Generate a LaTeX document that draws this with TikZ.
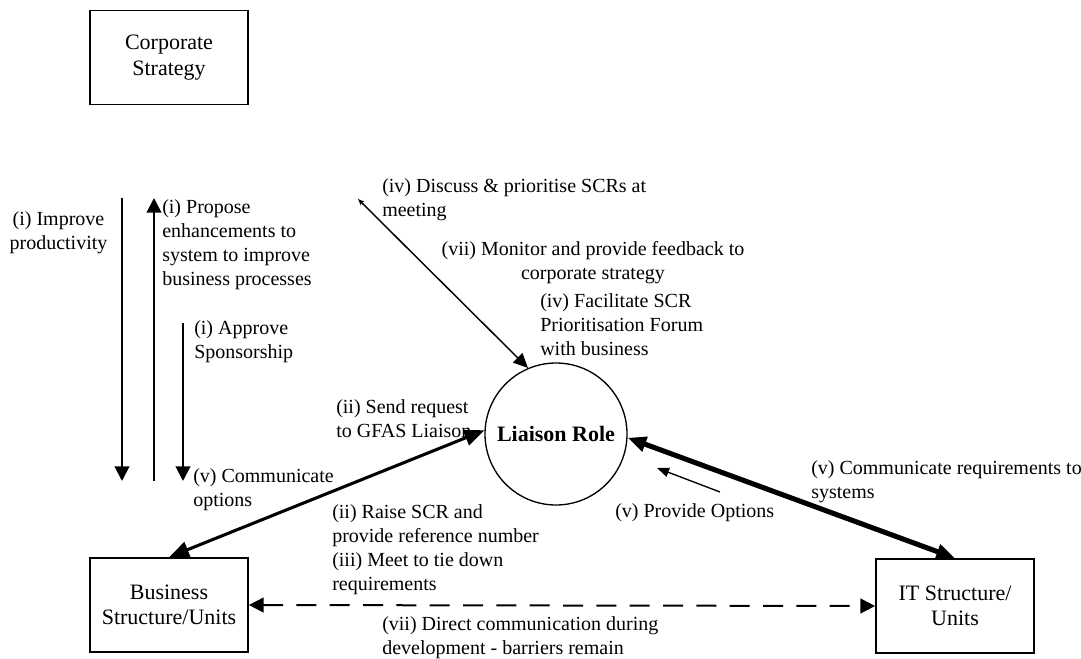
\documentclass[tikz,border=0pt]{standalone}
\usepackage{fontspec}
\setmainfont{Liberation Serif}
\usetikzlibrary{arrows.meta}

\tikzset{
  unitbox/.style={draw, line width=1.3pt, minimum width=118.5pt, minimum height=70.5pt,
    align=center, inner sep=0pt, font=\fontsize{16.5}{19}\selectfont},
  rolecircle/.style={draw, circle, line width=1pt, minimum size=106.5pt, inner sep=0pt,
    font=\fontsize{16.5}{19}\selectfont\bfseries},
  lbl/.style={anchor=north west, inner sep=0pt, align=left, font=\fontsize{15}{18}\selectfont},
  flow/.style={line width=1.5pt, -{Triangle[length=11pt,width=11pt]}},
}

\begin{document}
\begin{tikzpicture}[x=0.75pt,y=0.75pt,yscale=-1,xscale=1]
\useasboundingbox (0,0) rectangle (1081,659);

%Shape: Rectangle
\node[unitbox] (corp) at (169,57.5) {Corporate\\Strategy};
\node[unitbox] (bus) at (169,605) {Business\\Structure/Units};
\node[unitbox] (itu) at (955,606) {IT Structure/\\Units};

%Shape: Circle
\node[rolecircle] (liaison) at (556,434) {Liaison Role};

%Straight Lines
\coordinate (dnA) at (122,198);
\coordinate (dnB) at (122,481);
\draw[flow] (dnA) -- (dnB);

%Straight Lines
\coordinate (upA) at (154,481);
\coordinate (upB) at (154,198);
\draw[flow] (upA) -- (upB);

%Straight Lines
\coordinate (apA) at (183,323);
\coordinate (apB) at (183,481);
\draw[flow] (apA) -- (apB);

%Straight Lines
\coordinate (discA) at (358,199);
\draw[line width=1.1pt, {Stealth[length=5pt,width=4pt]}-{Triangle[length=11pt,width=10pt]}] (discA) -- (liaison.113);

%Straight Lines
\draw[line width=2.3pt, {Triangle[length=15pt,width=12pt]}-{Triangle[length=15pt,width=12pt]}] (bus.north) -- (liaison.177);

%Straight Lines
\draw[line width=3.8pt, {Triangle[length=14pt,width=11pt]}-{Triangle[length=14pt,width=11pt]}] (liaison.-3) -- (itu.north);

%Straight Lines
\coordinate (optA) at (720,492);
\coordinate (optB) at (657,468);
\draw[line width=1pt, -{Triangle[length=9pt,width=7pt]}] (optA) -- (optB);

%Straight Lines
\draw[line width=1.5pt, dash pattern=on 15pt off 10pt, {Triangle[length=11pt,width=11pt]}-{Triangle[length=11pt,width=11pt]}] (bus.east) -- (itu.west);

%Text Node
\node[lbl, anchor=north, align=center] (improve) at (58.5,211) {(i) Improve\\productivity};
\node[lbl] (propose) at (162,199) {(i) Propose\\enhancements to\\system to improve\\business processes};
\node[lbl] (approve) at (194,320) {(i) Approve\\Sponsorship};
\node[lbl] (commopt) at (193,468) {(v) Communicate\\options};
\node[lbl] (send) at (336,399) {(ii) Send request\\to GFAS Liaison};
\node[lbl] (discuss) at (382,178) {(iv) Discuss \& prioritise SCRs at\\meeting};
\node[lbl, anchor=north, align=center] (monitor) at (593,241) {(vii) Monitor and provide feedback to\\corporate strategy};
\node[lbl] (facil) at (540,293) {(iv) Facilitate SCR\\Prioritisation Forum\\with business};
\node[lbl] (commreq) at (811,460) {(v) Communicate requirements to\\systems};
\node[lbl] (provopt) at (615,503) {(v) Provide Options};
\node[lbl] (raise) at (332,504) {(ii) Raise SCR and\\provide reference number\\(iii) Meet to tie down\\requirements};
\node[lbl] (direct) at (382,616) {(vii) Direct communication during\\development - barriers remain};

\end{tikzpicture}
\end{document}
